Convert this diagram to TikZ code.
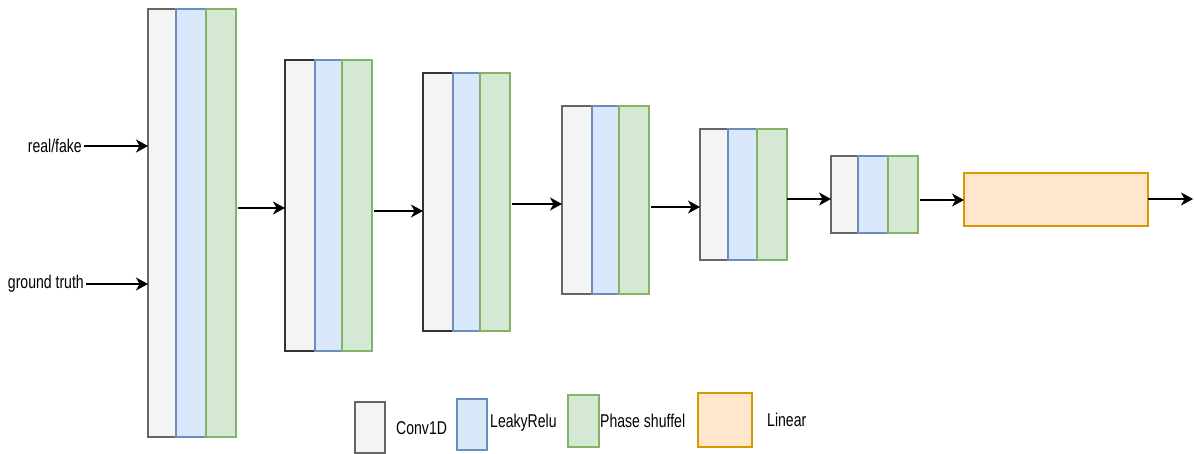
\documentclass[tikz,border=0pt]{standalone}
\usepackage{fontspec}
\setmainfont[FakeStretch=0.76]{Liberation Sans}
\usetikzlibrary{arrows.meta}
\definecolor{convfill}{HTML}{F4F4F4}
\definecolor{convdraw}{HTML}{666666}
\definecolor{convdark}{HTML}{333333}
\definecolor{relufill}{HTML}{DAE8FC}
\definecolor{reludraw}{HTML}{6C8EBF}
\definecolor{psfill}{HTML}{D5E8D4}
\definecolor{psdraw}{HTML}{82B366}
\definecolor{linfill}{HTML}{FFE6CC}
\definecolor{lindraw}{HTML}{D79B00}
\tikzset{
  blk/.style={rectangle, inner sep=0pt, outer sep=0pt, anchor=north west, line width=1.1pt},
  conv/.style={blk, fill=convfill, draw=convdraw},
  convd/.style={blk, fill=convfill, draw=convdark},
  relu/.style={blk, fill=relufill, draw=reludraw},
  ps/.style={blk, fill=psfill, draw=psdraw},
  lin/.style={blk, fill=linfill, draw=lindraw},
  arr/.style={line width=1.5pt, -{Stealth[length=12pt,width=13pt,inset=3.5pt]}},
  lbl/.style={font=\fontsize{18.5}{20}\selectfont, inner sep=2pt, text=black}
}
\begin{document}
\begin{tikzpicture}[x=1pt,y=-1pt]
\useasboundingbox (0,0) rectangle (1194,454);
% stack 1
\node[conv, minimum width=28, minimum height=428] (c1) at (148,9) {};
\node[relu, minimum width=30, minimum height=428] (r1) at (176,9) {};
\node[ps, minimum width=30, minimum height=428] (p1) at (206,9) {};
% stack 2
\node[convd, minimum width=30, minimum height=291] (c2) at (285,60) {};
\node[relu, minimum width=27, minimum height=291] (r2) at (315,60) {};
\node[ps, minimum width=30, minimum height=291] (p2) at (342,60) {};
% stack 3
\node[convd, minimum width=30, minimum height=258] (c3) at (423,73) {};
\node[relu, minimum width=27, minimum height=258] (r3) at (453,73) {};
\node[ps, minimum width=30, minimum height=258] (p3) at (480,73) {};
% stack 4
\node[conv, minimum width=30, minimum height=188] (c4) at (562,106) {};
\node[relu, minimum width=27, minimum height=188] (r4) at (592,106) {};
\node[ps, minimum width=30, minimum height=188] (p4) at (619,106) {};
% stack 5
\node[conv, minimum width=28, minimum height=131] (c5) at (700,129) {};
\node[relu, minimum width=29, minimum height=131] (r5) at (728,129) {};
\node[ps, minimum width=30, minimum height=131] (p5) at (757,129) {};
% stack 6
\node[conv, minimum width=27, minimum height=77] (c6) at (831,156) {};
\node[relu, minimum width=30, minimum height=77] (r6) at (858,156) {};
\node[ps, minimum width=30, minimum height=77] (p6) at (888,156) {};
% linear
\node[lin, minimum width=184, minimum height=53] (l1) at (964,173) {};
\coordinate (out) at (1193,199);
% inputs
\node[lbl, anchor=east] (rf) at (84,146) {real/fake};
\node[lbl, anchor=east] (gt) at (86,284) {ground truth};
\draw[arr] (rf.east) -- (c1.west |- rf.east);
\draw[arr] (gt.east) -- (c1.west |- gt.east);
% connectors
\draw[arr] ([xshift=2pt]p1.east |- {0,208}) -- (c2.west |- {0,208});
\draw[arr] ([xshift=2pt]p2.east |- {0,211}) -- (c3.west |- {0,211});
\draw[arr] ([xshift=2pt]p3.east |- {0,204}) -- (c4.west |- {0,204});
\draw[arr] ([xshift=2pt]p4.east |- {0,207}) -- (c5.west |- {0,207});
\draw[arr] (p5.east |- {0,199}) -- (c6.west |- {0,199});
\draw[arr] ([xshift=2pt]p6.east |- {0,200}) -- (l1.west |- {0,200});
\draw[arr] (l1.east |- out) -- (out);
% legend
\node[conv, minimum width=30, minimum height=51] (lg1) at (355,402) {};
\node[lbl, anchor=west] (lt1) at (394,428) {Conv1D};
\node[relu, minimum width=30, minimum height=51] (lg2) at (457,399) {};
\node[lbl, anchor=west] (lt2) at (488,423) {LeakyRelu};
\node[ps, minimum width=31, minimum height=52] (lg3) at (568,395) {};
\node[lbl, anchor=west] (lt3) at (598,421) {Phase shuffel};
\node[lin, minimum width=54, minimum height=54] (lg4) at (698,393) {};
\node[lbl, anchor=west] (lt4) at (765,420) {Linear};
\end{tikzpicture}
\end{document}
